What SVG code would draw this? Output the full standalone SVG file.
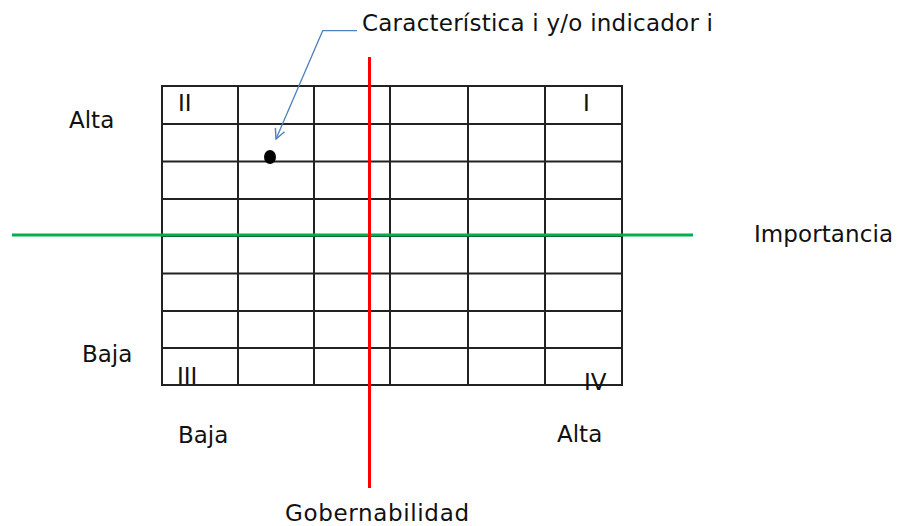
<svg xmlns="http://www.w3.org/2000/svg" width="900" height="526" viewBox="0 0 900 526">
  <style>
    .t { font-family: "DejaVu Sans", "Liberation Sans", sans-serif; font-size: 23px; fill: #111; }
    .g { stroke: #222; stroke-width: 2; fill: none; }
    .conn { stroke: #4F81BD; stroke-width: 1.3; fill: none; }
  </style>
  <defs>
    <marker id="arr" viewBox="0 0 12 12" refX="11" refY="6" markerWidth="12" markerHeight="12" markerUnits="userSpaceOnUse" orient="auto">
      <path d="M1,1 L11,6 L1,11" fill="none" stroke="#4F81BD" stroke-width="1.4"/>
    </marker>
  </defs>
  <rect width="900" height="526" fill="#fff"/>

  <g id="grid">
    <rect class="g" x="162" y="86" width="460" height="299"/>
    <path class="g" d="M238,86V385M314,86V385M390,86V385M468,86V385M545,86V385"/>
    <path class="g" d="M162,124H622M162,161.5H622M162,199H622M162,236H622M162,273.5H622M162,311H622M162,348H622"/>
  </g>

  <g id="axis-importancia">
    <line x1="12" y1="235" x2="693" y2="235" stroke="#00B050" stroke-width="3"/>
    <text class="t" x="754" y="242" textLength="139">Importancia</text>
  </g>

  <g id="axis-gobernabilidad">
    <line x1="369.5" y1="57" x2="369.5" y2="488" stroke="#FF0000" stroke-width="3"/>
    <text class="t" x="285" y="521" textLength="184">Gobernabilidad</text>
  </g>

  <g id="quadrant-labels">
    <text class="t" x="178" y="111">II</text>
    <text class="t" x="583" y="111">I</text>
    <text class="t" x="177" y="384">III</text>
    <text class="t" x="584" y="390">IV</text>
  </g>

  <g id="scale-labels">
    <text class="t" x="69" y="128">Alta</text>
    <text class="t" x="82" y="362">Baja</text>
    <text class="t" x="178" y="443">Baja</text>
    <text class="t" x="557" y="442">Alta</text>
  </g>

  <g id="point-i">
    <ellipse cx="270" cy="157" rx="6" ry="7" fill="#000"/>
  </g>

  <g id="label-caracteristica">
    <text class="t" x="362" y="31" textLength="351">Característica i y/o indicador i</text>
  </g>

  <g id="connectors">
    <path class="conn" d="M357,30.7 H322.7 L276,139" marker-end="url(#arr)"/>
  </g>
</svg>
